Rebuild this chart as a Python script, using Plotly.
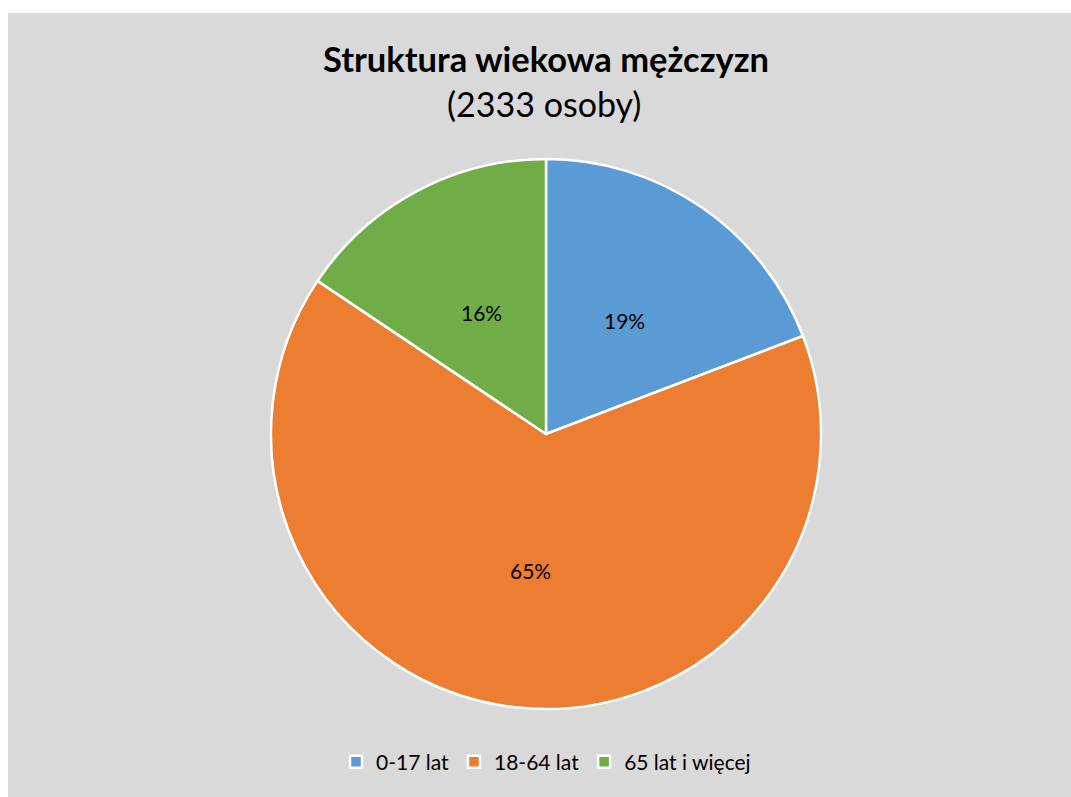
import math
import plotly.graph_objects as go

categories = ["0-17 lat", "18-64 lat", "65 lat i więcej"]
counts = [448, 1521, 364]
colors = ["#5b9bd5", "#ed7d31", "#70ad47"]
title_text = "Struktura wiekowa mężczyzn"
subtitle_text = "(2333 osoby)"

W, H = 1071, 797
cx, cy, R = 546, 434, 275

dom_x = [(cx - R) / W, (cx + R) / W]
dom_y = [1 - (cy + R) / H, 1 - (cy - R) / H]

fig = go.Figure(go.Pie(
    labels=categories,
    values=counts,
    sort=False,
    direction="clockwise",
    rotation=0,
    marker=dict(colors=colors, line=dict(color="white", width=2.5)),
    textinfo="none",
    hoverinfo="label+value+percent",
    domain=dict(x=dom_x, y=dom_y),
))

# percentage labels at half radius, middle angle of each slice (computed from data)
total = sum(counts)
annotations = []
acc = 0
for v in counts:
    mid = (acc + v / 2) / total * 2 * math.pi
    acc += v
    px = cx + 0.5 * R * math.sin(mid)
    py = cy - 0.5 * R * math.cos(mid)
    annotations.append(dict(
        text=f"{round(100 * v / total)}%", x=px / W, y=1 - py / H, xref="paper", yref="paper",
        showarrow=False, font=dict(size=21, family="Lato", color="#000000"),
        xanchor="center", yanchor="middle"))

annotations += [
    dict(text="<b>" + title_text + "</b>", x=546 / W, y=1 - 59 / H, xref="paper", yref="paper",
         showarrow=False, font=dict(size=34.5, family="Lato", color="#000000"), xanchor="center", yanchor="middle"),
    dict(text=subtitle_text, x=544 / W, y=1 - 104 / H, xref="paper", yref="paper",
         showarrow=False, font=dict(size=34, family="Lato", color="#000000"), xanchor="center", yanchor="middle"),
]

fig.update_layout(
    width=W, height=H,
    margin=dict(l=0, r=0, t=0, b=0),
    paper_bgcolor="#d9d9d9",
    plot_bgcolor="#d9d9d9",
    font=dict(family="Lato", color="#000000"),
    showlegend=True,
    legend=dict(orientation="h", x=546 / W, xanchor="center", y=1 - 762 / H, yanchor="middle",
                font=dict(size=21, color="#000000"), bgcolor="rgba(0,0,0,0)",
                itemclick=False, itemwidth=30),
    annotations=annotations,
    shapes=[
        dict(type="rect", xref="paper", yref="paper", x0=0, x1=8 / W, y0=0, y1=1,
             fillcolor="white", line=dict(width=0), layer="above"),
        dict(type="rect", xref="paper", yref="paper", x0=0, x1=1, y0=1 - 13 / H, y1=1,
             fillcolor="white", line=dict(width=0), layer="above"),
    ],
)

fig.write_html("out.html", config={"displayModeBar": False},
               post_script="document.body.style.margin='0';document.body.style.overflow='hidden';")
